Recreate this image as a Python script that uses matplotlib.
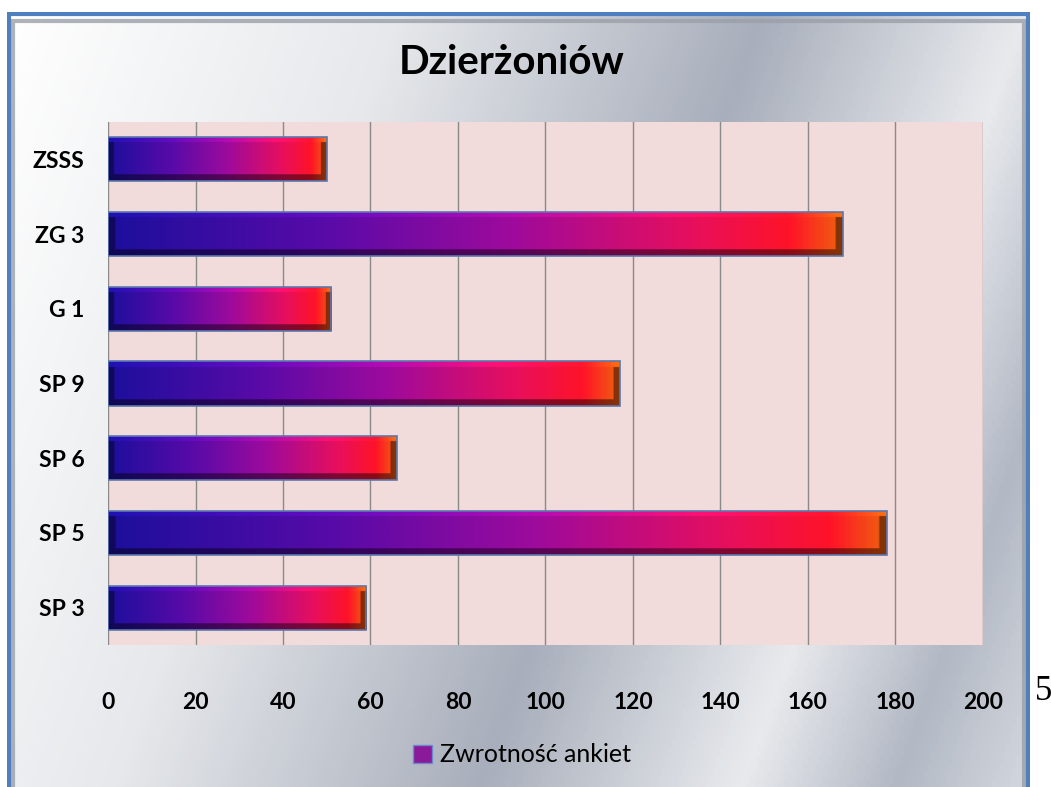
import numpy as np
import matplotlib
matplotlib.use("Agg")
import matplotlib.pyplot as plt
from matplotlib.colors import LinearSegmentedColormap
from matplotlib.patches import Rectangle, Patch

plt.rcParams['font.family'] = ['Lato', 'DejaVu Sans']

# dane
categories = ['SP 3', 'SP 5', 'SP 6', 'SP 9', 'G 1', 'ZG 3', 'ZSSS']
values = [59, 178, 66, 117, 51, 168, 50]
series_name = 'Zwrotność ankiet'
title = 'Dzierżoniów'
xticks = [0, 20, 40, 60, 80, 100, 120, 140, 160, 180, 200]

W, H = 1051, 787
fig = plt.figure(figsize=(W / 100, H / 100), dpi=100)

# tło ramki - metaliczny gradient
bx0, bx1, by0 = 7, 1030, 12
bg = fig.add_axes([bx0 / W, 0, (bx1 - bx0) / W, (H - by0) / H])
bg.set_axis_off()
metal = LinearSegmentedColormap.from_list('metal', [
    (0.0, '#ffffff'), (0.3, '#e6e8eb'), (0.58, '#a8aebb'),
    (0.78, '#e8eaed'), (0.9, '#b2b8c4'), (1.0, '#d3d7de')])
yy, xx = np.mgrid[0:1:200j, 0:1:300j]
u = 0.9 * xx + 0.25 * yy
u = (u - u.min()) / (u.max() - u.min())
bg.imshow(u, cmap=metal, extent=(0, 1, 0, 1), aspect='auto', origin='upper')
bg.set_xlim(0, 1)
bg.set_ylim(0, 1)
bg.add_patch(Rectangle((0.006, -0.01), 0.988, 0.999, fill=False,
                       edgecolor='#9a9fa8', lw=3.0, alpha=0.8,
                       transform=bg.transAxes))
bg.add_patch(Rectangle((0.0015, -0.01), 0.997, 1.008, fill=False,
                       edgecolor='#4f7fbf', lw=3.0, transform=bg.transAxes))

# wykres
ax = fig.add_axes([108 / W, (H - 645) / H, (983 - 108) / W, (645 - 122) / H])
ax.set_facecolor('#f2dcdb')
ypos = np.arange(len(categories))
bars = ax.barh(ypos, values, height=0.59, color='none',
               edgecolor='#5b78ad', linewidth=1.2, zorder=3)

grad = LinearSegmentedColormap.from_list('bar', [
    (0.0, '#1c0f9c'), (0.3, '#5a0aa8'), (0.55, '#9e0a9c'),
    (0.8, '#e80f5c'), (0.93, '#ff1328'), (1.0, '#f0600f')])
px_per_unit = (983 - 108) / 200
for b in bars:
    x0, y0, w, h = b.get_x(), b.get_y(), b.get_width(), b.get_height()
    nx, ny = 400, 60
    t = np.linspace(0, 1, nx)
    rgb = grad(t)[:, :3][None, :, :].repeat(ny, axis=0)
    f = np.ones((ny, nx))
    yfrac = np.linspace(0, 1, ny)[:, None]  # 0 = góra
    f = np.where(yfrac < 0.12, 1.15, f)
    f = np.where(yfrac > 0.86, 0.55, f)
    bev = 6 / (w * px_per_unit)
    xfrac = t[None, :]
    mid = (yfrac >= 0.12) & (yfrac <= 0.86)
    f = np.where((xfrac < bev) & mid, 0.6, f)
    f = np.where((xfrac > 1 - bev) & mid, 0.55, f)
    img = np.clip(rgb * f[:, :, None], 0, 1)
    im = ax.imshow(img, extent=(x0, x0 + w, y0, y0 + h), aspect='auto',
                   origin='upper', zorder=2, interpolation='bilinear')
    im.set_clip_path(b)

ax.set_xlim(0, 200)
ax.set_ylim(-0.5, len(categories) - 0.5)
ax.set_xticks(xticks)
ax.set_yticks(ypos)
ax.set_yticklabels(categories)
ax.xaxis.grid(True, color='#8a8a8a', lw=1.0, zorder=1)
ax.set_axisbelow(True)
for s in ax.spines.values():
    s.set_visible(False)
ax.tick_params(axis='both', length=0, labelsize=16.5, labelcolor='black')
ax.tick_params(axis='x', pad=34)
ax.tick_params(axis='y', pad=17)
for lab in ax.get_xticklabels() + ax.get_yticklabels():
    lab.set_fontweight('bold')

fig.text(512 / W, 1 - 63 / H, title, ha='center', va='center',
         fontsize=29, fontweight='bold')

fig.legend(handles=[Patch(facecolor='#8b1a9a', edgecolor='#6a8acf')],
           labels=[series_name], loc='center',
           bbox_to_anchor=(522 / W, 1 - 755 / H), frameon=False,
           fontsize=18, handlelength=0.75, handleheight=0.75,
           handletextpad=0.3)

fig.text(1035 / W, 1 - 692 / H, '5', ha='left', va='center',
         fontsize=25, family='Liberation Serif')

fig.savefig('out.png', dpi=100)
